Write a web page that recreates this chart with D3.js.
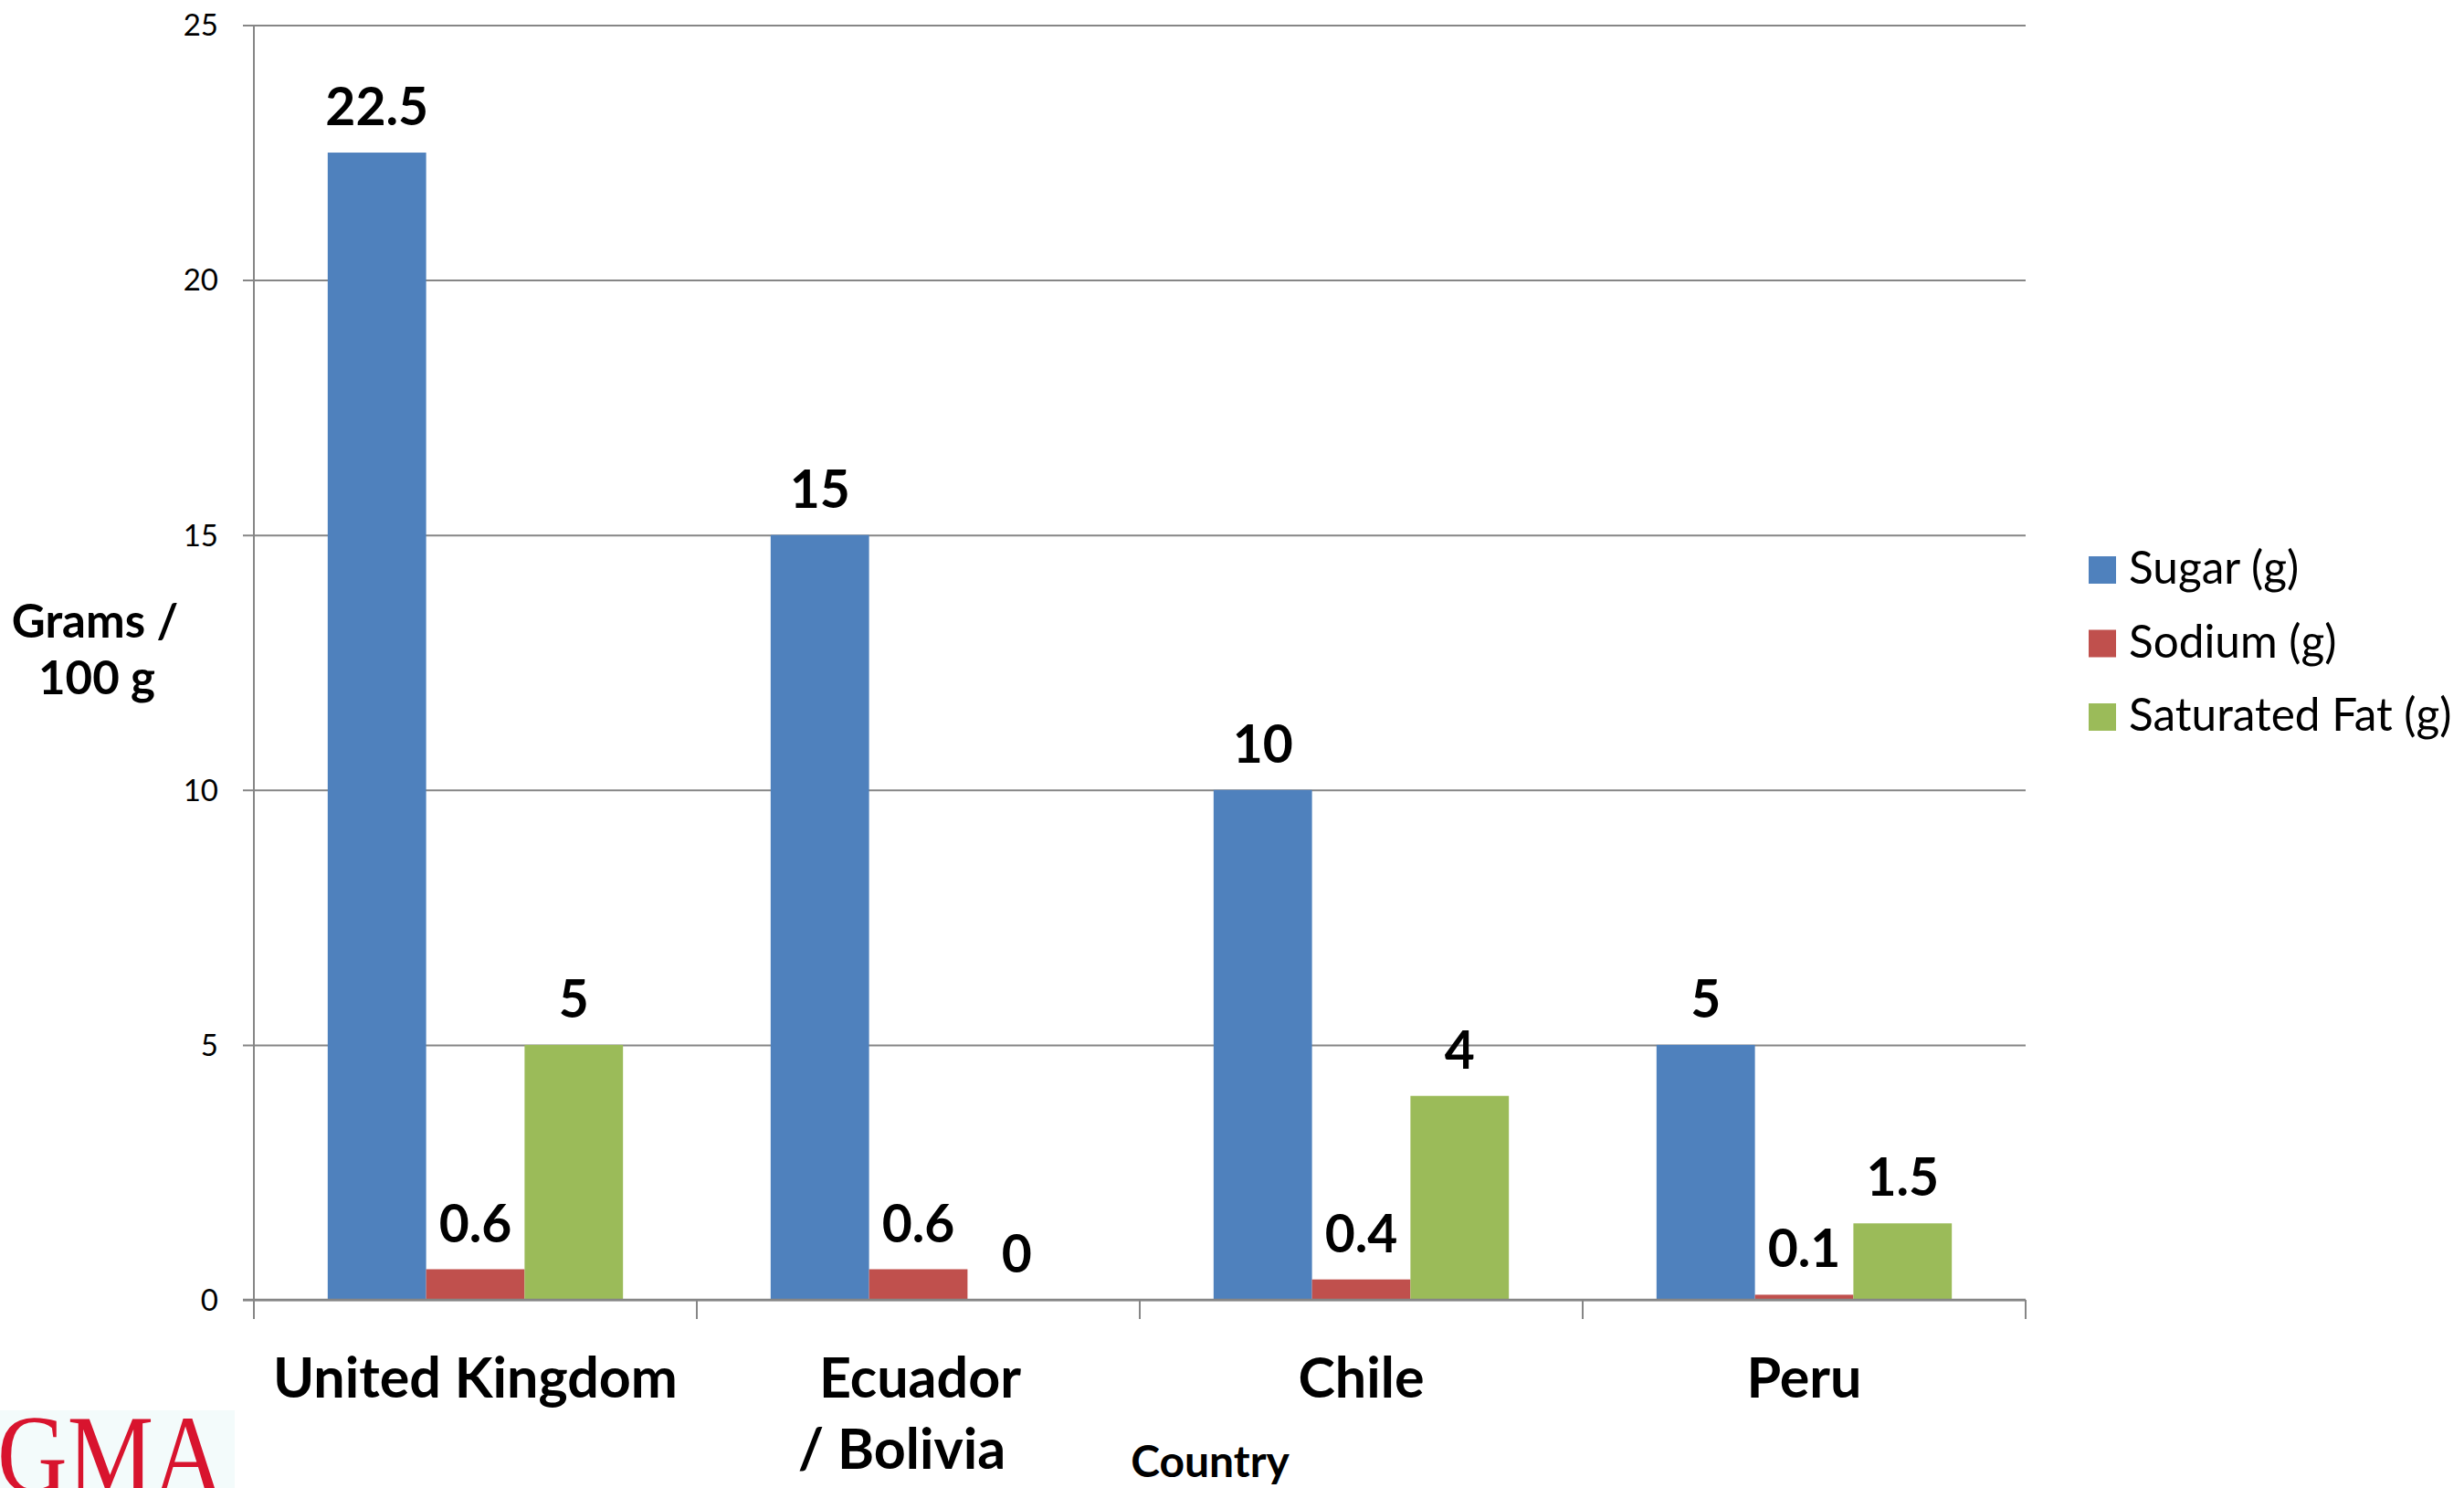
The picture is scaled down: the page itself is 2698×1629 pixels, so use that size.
<!DOCTYPE html>
<html>
<head>
<meta charset="utf-8">
<script src="https://cdn.jsdelivr.net/npm/d3@7"></script>
<style>
  html, body { margin: 0; padding: 0; background: #ffffff; }
  svg { display: block; }
  text { font-family: Lato, "Open Sans", sans-serif; fill: #000; }
</style>
</head>
<body>
<svg id="chart" width="2698" height="1629"></svg>
<script>
// Nutrient thresholds per 100 g, by country
const categories = ["United Kingdom", "Ecuador / Bolivia", "Chile", "Peru"];
const seriesNames = ["Sugar (g)", "Sodium (g)", "Saturated Fat (g)"];
const sugar = [22.5, 15, 10, 5];
const sodium = [0.6, 0.6, 0.4, 0.1];
const saturatedFat = [5, 0, 4, 1.5];
const yTicks = [0, 5, 10, 15, 20, 25];
const colors = ["#4f81bd", "#c0504d", "#9bbb59"];

const series = [sugar, sodium, saturatedFat];

const svg = d3.select("#chart");
const W = 2698, H = 1629;
svg.append("rect").attr("width", W).attr("height", H).attr("fill", "#fff");

const plot = { left: 278, right: 2218, top: 27.5, bottom: 1423 };

const x0 = d3.scaleBand()
  .domain(categories)
  .range([plot.left, plot.right])
  .paddingInner(0).paddingOuter(0);

// three bars fill 3/4.5 of each band (gap width 150%)
const barW = x0.bandwidth() / 4.5;
const x1 = d3.scaleBand()
  .domain(seriesNames)
  .range([barW * 0.75, barW * 3.75])
  .padding(0);

const y = d3.scaleLinear().domain([0, 25]).range([plot.bottom, plot.top]);

const gridColor = "#868686";

// horizontal gridlines with outward ticks on the value axis
const yAxis = d3.axisLeft(y)
  .tickValues(yTicks)
  .tickSize(-(plot.right - plot.left))
  .tickFormat("");
const gy = svg.append("g")
  .attr("transform", `translate(${plot.left},0)`)
  .call(yAxis);
gy.select(".domain").remove();
gy.selectAll(".tick line")
  .attr("x1", -12)
  .attr("stroke", gridColor)
  .attr("stroke-width", 2);

// tick labels
svg.append("g").selectAll("text")
  .data(yTicks)
  .join("text")
  .attr("x", 239)
  .attr("y", d => y(d))
  .attr("dy", "0.36em")
  .attr("text-anchor", "end")
  .attr("font-size", 33)
  .text(d => d);

// bars
const groups = svg.append("g").selectAll("g")
  .data(categories)
  .join("g")
  .attr("transform", d => `translate(${x0(d)},0)`);

groups.selectAll("rect")
  .data((d, i) => seriesNames.map((s, j) => ({ s, j, v: series[j][i] })))
  .join("rect")
  .attr("x", d => x1(d.s))
  .attr("y", d => y(d.v))
  .attr("width", x1.bandwidth())
  .attr("height", d => y(0) - y(d.v))
  .attr("fill", d => colors[d.j]);

// value labels above each bar
groups.selectAll("text.val")
  .data((d, i) => seriesNames.map((s, j) => ({ s, j, v: series[j][i] })))
  .join("text")
  .attr("class", "val")
  .attr("x", d => x1(d.s) + x1.bandwidth() / 2)
  .attr("y", d => y(d.v) - 30)
  .attr("text-anchor", "middle")
  .attr("font-size", 57)
  .attr("font-weight", 700)
  .text(d => d.v);

// value axis line
svg.append("line")
  .attr("x1", plot.left).attr("x2", plot.left)
  .attr("y1", plot.top).attr("y2", plot.bottom + 21)
  .attr("stroke", gridColor).attr("stroke-width", 2);

// category axis with ticks between groups
const xAxisY = plot.bottom;
svg.append("line")
  .attr("x1", plot.left - 12).attr("x2", plot.right)
  .attr("y1", xAxisY).attr("y2", xAxisY)
  .attr("stroke", gridColor).attr("stroke-width", 2.5);

const bounds = categories.map(c => x0(c)).concat([plot.right]);
svg.append("g").selectAll("line")
  .data(bounds)
  .join("line")
  .attr("x1", d => d).attr("x2", d => d)
  .attr("y1", xAxisY).attr("y2", xAxisY + 21)
  .attr("stroke", gridColor).attr("stroke-width", 2);

// category labels (wrapped at the slash)
const catLabels = svg.append("g").selectAll("text")
  .data(categories)
  .join("text")
  .attr("text-anchor", "middle")
  .attr("font-size", 61)
  .attr("font-weight", 700)
  .attr("y", 1530);

catLabels.each(function (d) {
  const t = d3.select(this);
  const cx = x0(d) + x0.bandwidth() / 2;
  const parts = d.includes(" / ") ? [d.split(" / ")[0], "/ " + d.split(" / ")[1]] : [d];
  parts.forEach((p, k) => {
    t.append("tspan")
      .attr("x", cx + (parts.length > 1 ? (k === 0 ? 2 : -18) : 0))
      .attr("dy", k === 0 ? 0 : 78)
      .text(p);
  });
});

// axis titles
svg.append("text")
  .attr("x", 1325).attr("y", 1617)
  .attr("text-anchor", "middle")
  .attr("font-size", 48)
  .attr("font-weight", 700)
  .text("Country");

const yTitle = svg.append("text")
  .attr("text-anchor", "middle")
  .attr("font-size", 51)
  .attr("font-weight", 700);
yTitle.append("tspan").attr("x", 104).attr("y", 698).text("Grams /");
yTitle.append("tspan").attr("x", 106).attr("y", 760).text("100 g");

// legend
const legend = svg.append("g").attr("transform", "translate(2287,0)");
const legendRow = d3.scalePoint().domain(seriesNames).range([624, 785]);
const li = legend.selectAll("g")
  .data(seriesNames)
  .join("g")
  .attr("transform", d => `translate(0,${legendRow(d)})`);
li.append("rect")
  .attr("x", 0).attr("y", -15)
  .attr("width", 30).attr("height", 30)
  .attr("fill", (d, i) => colors[i]);
li.append("text")
  .attr("x", 44).attr("y", 15)
  .attr("font-size", 49.5)
  .text(d => d);

// GMA mark in the lower-left corner
svg.append("rect")
  .attr("x", 0).attr("y", 1544)
  .attr("width", 257).attr("height", H - 1544)
  .attr("fill", "#f3fbfb");
svg.append("text")
  .attr("transform", "translate(-3,1634) scale(0.87,1)")
  .style("font-family", "'Liberation Serif', 'DejaVu Serif', serif")
  .attr("font-size", 122)
  .style("fill", "#d8142e")
  .text("GMA");
</script>
</body>
</html>
